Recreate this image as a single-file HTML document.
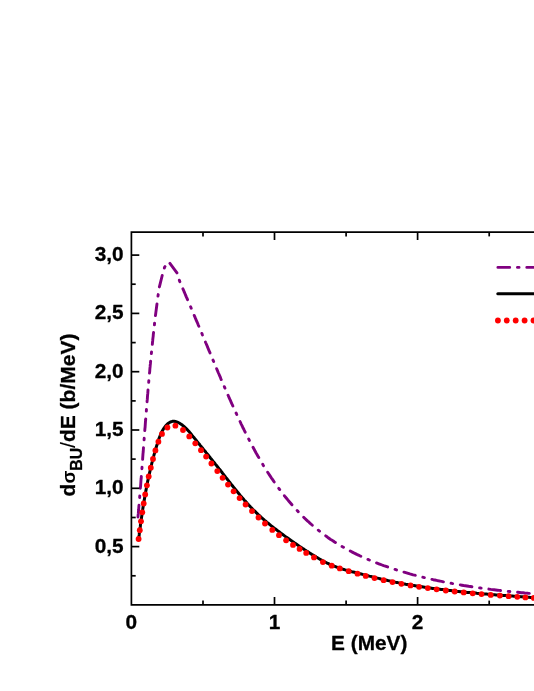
<!DOCTYPE html>
<html><head><meta charset="utf-8"><title>chart</title>
<style>html,body{margin:0;padding:0;background:#fff}svg{display:block;will-change:transform}text{font-family:"Liberation Sans",sans-serif;font-weight:bold;fill:#000;stroke:#000;stroke-width:0.3px;stroke-linejoin:round}</style></head>
<body>
<svg width="534" height="691" viewBox="0 0 534 691">
<rect width="534" height="691" fill="#fff"/>
<path d="M138.0,517.0 L138.1,515.5 L138.3,513.9 L138.4,512.4 L138.5,510.8 L138.7,509.3 L138.8,507.7 L138.9,506.2 L139.1,504.6 L139.2,503.1 L139.3,501.5 L139.4,500.0 L139.6,498.4 L139.7,496.9 L139.8,495.3 L139.9,493.8 L140.1,492.3 L140.2,490.7 L140.3,489.2 L140.4,487.6 L140.6,486.1 L140.7,484.5 L140.8,483.0 L140.9,481.4 L141.0,479.9 L141.2,478.3 L141.3,476.8 L141.4,475.2 L141.5,473.7 L141.6,472.1 L141.8,470.6 L141.9,469.0 L142.0,467.5 L142.1,466.0 L142.2,464.4 L142.3,462.9 L142.5,461.3 L142.6,459.8 L142.7,458.2 L142.8,456.7 L142.9,455.1 L143.0,453.6 L143.2,452.0 L143.3,450.5 L143.4,448.9 L143.5,447.4 L143.6,445.8 L143.8,444.3 L143.9,442.7 L144.0,441.2 L144.1,439.6 L144.2,438.1 L144.3,436.5 L144.5,435.0 L144.6,433.5 L144.7,431.9 L144.8,430.4 L144.9,428.8 L145.1,427.3 L145.2,425.7 L145.3,424.2 L145.4,422.6 L145.5,421.1 L145.7,419.5 L145.8,418.0 L145.9,416.4 L146.0,414.9 L146.1,413.3 L146.3,411.8 L146.4,410.2 L146.5,408.7 L146.6,407.1 L146.8,405.6 L146.9,404.1 L147.0,402.5 L147.1,401.0 L147.3,399.4 L147.4,397.9 L147.5,396.3 L147.6,394.8 L147.8,393.2 L147.9,391.7 L148.0,390.1 L148.2,388.6 L148.3,387.0 L148.4,385.5 L148.6,383.9 L148.7,382.4 L148.8,380.9 L149.0,379.3 L149.1,377.8 L149.2,376.2 L149.4,374.7 L149.5,373.1 L149.7,371.6 L149.8,370.0 L149.9,368.5 L150.1,366.9 L150.2,365.4 L150.4,363.9 L150.5,362.3 L150.7,360.8 L150.8,359.2 L151.0,357.7 L151.1,356.1 L151.3,354.6 L151.4,353.0 L151.6,351.5 L151.7,350.0 L151.9,348.4 L152.0,346.9 L152.2,345.3 L152.4,343.8 L152.5,342.2 L152.7,340.7 L152.8,339.2 L153.0,337.6 L153.2,336.1 L153.3,334.5 L153.5,333.0 L153.7,331.4 L153.8,329.9 L154.0,328.4 L154.2,326.8 L154.4,325.3 L154.5,323.7 L154.7,322.2 L154.9,320.6 L155.1,319.1 L155.3,317.6 L155.4,316.0 L155.6,314.5 L155.8,312.9 L156.0,311.4 L156.2,309.9 L156.4,308.3 L156.6,306.8 L156.8,305.2 L157.0,303.7 L157.2,302.2 L157.4,300.6 L157.6,299.1 L157.8,297.5 L158.0,296.0 L158.2,294.5 L158.4,292.9 L158.6,291.4 L158.8,289.9 L159.0,288.3 L159.4,286.8 L162.4,274.7 L164.7,266.9 L168.9,262.0 L177.3,273.3 L179.5,280.9 L180.2,282.5 L180.9,284.1 L181.5,285.6 L182.2,287.2 L182.9,288.8 L183.6,290.3 L184.2,291.9 L184.9,293.5 L185.6,295.1 L186.2,296.6 L186.9,298.2 L187.6,299.8 L188.3,301.4 L188.9,302.9 L189.6,304.5 L190.3,306.1 L191.0,307.7 L191.6,309.3 L192.3,310.8 L193.0,312.4 L193.6,314.0 L194.3,315.6 L195.0,317.2 L195.6,318.7 L196.3,320.3 L197.0,321.9 L197.7,323.5 L198.3,325.1 L199.0,326.6 L199.7,328.2 L200.3,329.8 L201.0,331.4 L201.7,333.0 L202.3,334.5 L203.0,336.1 L203.6,337.7 L204.3,339.3 L205.0,340.9 L205.6,342.5 L206.3,344.0 L207.0,345.6 L207.6,347.2 L208.3,348.8 L208.9,350.4 L209.6,351.9 L210.3,353.5 L210.9,355.1 L211.6,356.7 L212.3,358.3 L212.9,359.8 L213.6,361.4 L214.3,363.0 L214.9,364.6 L215.6,366.2 L216.2,367.7 L216.9,369.3 L217.6,370.9 L218.2,372.5 L218.9,374.0 L219.6,375.6 L220.3,377.2 L220.9,378.8 L221.6,380.3 L222.3,381.9 L223.0,383.5 L223.6,385.1 L224.3,386.6 L225.0,388.2 L225.7,389.8 L226.4,391.3 L227.0,392.9 L227.7,394.5 L228.4,396.0 L229.1,397.6 L229.8,399.2 L230.5,400.7 L231.2,402.3 L231.9,403.9 L232.6,405.4 L233.3,407.0 L234.0,408.5 L234.7,410.1 L235.4,411.7 L236.2,413.2 L236.9,414.8 L237.6,416.3 L238.3,417.9 L239.0,419.4 L239.8,421.0 L240.5,422.5 L241.2,424.1 L242.0,425.6 L242.7,427.2 L243.5,428.7 L244.2,430.2 L245.0,431.8 L245.8,433.3 L246.5,434.8 L247.3,436.4 L248.1,437.9 L248.9,439.4 L249.6,440.9 L250.4,442.4 L251.2,444.0 L252.0,445.5 L252.9,447.0 L253.7,448.5 L254.5,450.0 L255.3,451.5 L256.1,453.0 L257.0,454.5 L257.8,456.0 L258.7,457.4 L259.5,458.9 L260.4,460.4 L261.3,461.9 L262.2,463.3 L263.0,464.8 L263.9,466.3 L264.8,467.7 L265.7,469.2 L266.6,470.6 L267.6,472.1 L268.5,473.5 L269.4,474.9 L270.4,476.4 L271.3,477.8 L272.3,479.2 L273.3,480.6 L274.3,482.1 L275.2,483.5 L276.2,484.9 L277.2,486.3 L278.3,487.7 L279.3,489.0 L280.3,490.4 L281.3,491.8 L282.4,493.1 L283.4,494.5 L284.5,495.9 L285.6,497.2 L286.7,498.5 L287.8,499.9 L288.9,501.2 L290.0,502.5 L291.1,503.8 L292.2,505.1 L293.3,506.4 L294.5,507.7 L295.6,508.9 L296.8,510.2 L298.0,511.4 L299.2,512.7 L300.4,513.9 L301.6,515.1 L302.8,516.3 L304.0,517.6 L305.2,518.7 L306.4,519.9 L307.7,521.1 L309.0,522.2 L310.2,523.4 L311.5,524.5 L312.8,525.7 L314.1,526.8 L315.4,527.9 L316.7,529.0 L318.0,530.0 L319.4,531.1 L320.7,532.1 L322.0,533.2 L323.4,534.2 L324.8,535.2 L326.2,536.2 L327.5,537.2 L328.9,538.2 L330.3,539.2 L331.7,540.1 L333.2,541.0 L334.6,542.0 L336.0,542.9 L337.5,543.8 L338.9,544.7 L340.4,545.5 L341.8,546.4 L343.3,547.2 L344.8,548.1 L346.3,548.9 L347.8,549.7 L349.3,550.5 L350.8,551.3 L352.3,552.1 L353.8,552.9 L355.3,553.6 L356.8,554.4 L358.4,555.1 L359.9,555.8 L361.5,556.5 L363.0,557.2 L364.6,557.9 L366.1,558.6 L367.7,559.3 L369.3,560.0 L370.9,560.6 L372.4,561.3 L374.0,561.9 L375.6,562.5 L377.2,563.2 L378.8,563.8 L380.4,564.4 L382.0,565.0 L383.6,565.6 L385.3,566.1 L386.9,566.7 L388.5,567.3 L390.1,567.8 L391.8,568.4 L393.4,568.9 L395.0,569.4 L396.7,570.0 L398.3,570.5 L400.0,571.0 L401.6,571.5 L403.3,572.0 L404.9,572.4 L406.6,572.9 L408.2,573.4 L409.9,573.9 L411.5,574.3 L413.2,574.8 L414.9,575.2 L416.5,575.6 L418.2,576.1 L419.9,576.5 L421.5,576.9 L423.2,577.3 L424.9,577.7 L426.5,578.1 L428.2,578.5 L429.9,578.9 L431.6,579.3 L433.2,579.7 L434.9,580.0 L436.6,580.4 L438.3,580.8 L440.0,581.1 L441.6,581.4 L443.3,581.8 L445.0,582.1 L446.7,582.5 L448.4,582.8 L450.1,583.1 L451.8,583.4 L453.4,583.7 L455.1,584.0 L456.8,584.3 L458.5,584.6 L460.2,584.9 L461.9,585.2 L463.6,585.5 L465.3,585.7 L467.0,586.0 L468.7,586.3 L470.4,586.5 L472.1,586.8 L473.8,587.0 L475.5,587.3 L477.2,587.5 L478.9,587.8 L480.6,588.0 L482.2,588.3 L483.9,588.5 L485.6,588.7 L487.3,588.9 L489.0,589.1 L490.7,589.4 L492.4,589.6 L494.1,589.8 L495.8,590.0 L497.5,590.2 L499.2,590.4 L500.9,590.6 L502.6,590.8 L504.3,590.9 L506.0,591.1 L507.7,591.3 L509.4,591.5 L511.1,591.7 L512.8,591.8 L514.5,592.0 L516.2,592.2 L517.9,592.3 L519.6,592.5 L521.3,592.7 L523.0,592.8 L524.7,593.0 L526.4,593.1 L528.1,593.3 L529.8,593.4" fill="none" stroke="#800080" stroke-width="2.9" stroke-linecap="round" stroke-linejoin="round" stroke-dasharray="11.8 7.75 1.6 7.75"/>
<path d="M138.6,539.0 L138.8,537.6 L139.0,536.3 L139.2,534.9 L139.3,533.5 L139.5,532.1 L139.7,530.8 L139.9,529.4 L140.1,528.0 L140.3,526.7 L140.4,525.3 L140.6,523.9 L140.8,522.6 L141.0,521.2 L141.2,519.8 L141.4,518.5 L141.6,517.1 L141.8,515.7 L142.0,514.4 L142.2,513.0 L142.4,511.6 L142.6,510.3 L142.8,508.9 L143.0,507.6 L143.2,506.2 L143.5,504.8 L143.7,503.5 L143.9,502.1 L144.1,500.7 L144.4,499.4 L144.6,498.0 L144.8,496.7 L145.1,495.3 L145.3,493.9 L145.6,492.6 L145.8,491.2 L146.1,489.9 L146.3,488.5 L146.6,487.2 L146.8,485.8 L147.1,484.5 L147.4,483.1 L147.6,481.7 L147.9,480.4 L148.2,479.0 L148.5,477.7 L148.8,476.3 L149.1,475.0 L149.4,473.6 L149.7,472.3 L150.0,471.0 L150.3,469.6 L150.6,468.3 L150.9,466.9 L151.3,465.6 L151.6,464.2 L151.9,462.9 L152.3,461.6 L152.6,460.2 L153.0,458.9 L153.3,457.6 L153.7,456.2 L154.0,454.9 L154.4,453.6 L154.8,452.2 L155.2,450.9 L155.6,449.6 L155.9,448.3 L156.3,447.0 L156.7,445.6 L157.2,444.3 L157.6,443.0 L158.0,441.7 L158.4,440.4 L158.8,439.1 L159.3,437.8 L159.8,436.5 L160.3,435.2 L160.8,434.0 L161.4,432.7 L162.0,431.5 L162.7,430.2 L163.4,429.0 L164.2,427.8 L165.1,426.6 L166.0,425.5 L167.0,424.4 L168.1,423.5 L169.2,422.7 L170.4,422.0 L171.6,421.6 L172.8,421.3 L174.1,421.3 L175.4,421.5 L176.7,421.9 L177.9,422.4 L179.2,423.0 L180.3,423.7 L181.5,424.5 L182.6,425.3 L183.6,426.1 L184.7,427.1 L185.7,428.0 L186.7,429.0 L187.6,430.0 L188.5,431.0 L189.5,432.1 L190.4,433.2 L191.3,434.3 L192.1,435.4 L193.0,436.5 L193.9,437.5 L194.8,438.6 L195.7,439.7 L196.5,440.8 L197.4,441.9 L198.3,443.0 L199.2,444.0 L200.0,445.1 L200.9,446.2 L201.8,447.3 L202.7,448.3 L203.5,449.4 L204.4,450.5 L205.3,451.5 L206.1,452.6 L207.0,453.7 L207.9,454.8 L208.7,455.8 L209.6,456.9 L210.4,458.0 L211.3,459.0 L212.2,460.1 L213.0,461.2 L213.9,462.2 L214.7,463.3 L215.6,464.4 L216.5,465.4 L217.3,466.5 L218.2,467.6 L219.0,468.7 L219.9,469.8 L220.7,470.8 L221.6,471.9 L222.4,473.0 L223.3,474.1 L224.1,475.2 L225.0,476.3 L225.8,477.4 L226.7,478.4 L227.5,479.5 L228.4,480.6 L229.2,481.7 L230.1,482.8 L230.9,483.9 L231.8,485.0 L232.6,486.0 L233.5,487.1 L234.4,488.2 L235.2,489.3 L236.1,490.3 L237.0,491.4 L237.9,492.5 L238.7,493.6 L239.6,494.6 L240.5,495.7 L241.4,496.7 L242.3,497.8 L243.2,498.8 L244.1,499.9 L245.0,500.9 L246.0,501.9 L246.9,503.0 L247.8,504.0 L248.7,505.0 L249.7,506.0 L250.6,507.0 L251.6,508.0 L252.5,509.0 L253.5,510.0 L254.5,510.9 L255.5,511.9 L256.5,512.9 L257.5,513.8 L258.5,514.8 L259.5,515.7 L260.5,516.6 L261.5,517.6 L262.5,518.5 L263.6,519.4 L264.6,520.3 L265.7,521.2 L266.7,522.1 L267.8,523.0 L268.9,523.8 L269.9,524.7 L271.0,525.6 L272.1,526.4 L273.2,527.3 L274.3,528.2 L275.4,529.0 L276.5,529.8 L277.6,530.7 L278.7,531.5 L279.8,532.3 L280.9,533.2 L282.0,534.0 L283.1,534.8 L284.2,535.6 L285.3,536.4 L286.5,537.2 L287.6,538.0 L288.7,538.8 L289.8,539.6 L291.0,540.4 L292.1,541.2 L293.2,542.0 L294.3,542.8 L295.5,543.6 L296.6,544.3 L297.7,545.1 L298.9,545.9 L300.0,546.7 L301.2,547.4 L302.3,548.2 L303.5,548.9 L304.6,549.7 L305.8,550.5 L306.9,551.2 L308.1,551.9 L309.2,552.7 L310.4,553.4 L311.6,554.2 L312.7,554.9 L313.9,555.6 L315.1,556.3 L316.3,557.1 L317.5,557.8 L318.7,558.5 L319.9,559.2 L321.1,559.9 L322.3,560.5 L323.5,561.2 L324.8,561.9 L326.0,562.5 L327.2,563.1 L328.5,563.7 L329.7,564.3 L331.0,564.9 L332.2,565.4 L333.5,565.9 L334.8,566.4 L336.1,566.9 L337.4,567.4 L338.7,567.8 L340.0,568.3 L341.3,568.7 L342.6,569.1 L343.9,569.5 L345.2,569.9 L346.5,570.2 L347.9,570.6 L349.2,571.0 L350.5,571.3 L351.9,571.7 L353.2,572.0 L354.5,572.3 L355.9,572.7 L357.2,573.0 L358.5,573.4 L359.9,573.7 L361.2,574.0 L362.6,574.4 L363.9,574.7 L365.2,575.1 L366.6,575.4 L367.9,575.7 L369.3,576.1 L370.6,576.4 L372.0,576.8 L373.3,577.1 L374.6,577.4 L376.0,577.8 L377.3,578.1 L378.7,578.4 L380.0,578.7 L381.4,579.1 L382.7,579.4 L384.1,579.7 L385.4,580.0 L386.8,580.3 L388.1,580.6 L389.5,580.9 L390.8,581.2 L392.2,581.5 L393.5,581.8 L394.9,582.1 L396.2,582.4 L397.6,582.6 L398.9,582.9 L400.3,583.2 L401.6,583.4 L403.0,583.7 L404.3,583.9 L405.7,584.2 L407.0,584.4 L408.4,584.6 L409.8,584.9 L411.1,585.1 L412.5,585.3 L413.8,585.6 L415.2,585.8 L416.5,586.0 L417.9,586.2 L419.3,586.4 L420.6,586.6 L422.0,586.8 L423.4,587.0 L424.7,587.2 L426.1,587.4 L427.4,587.6 L428.8,587.8 L430.2,588.0 L431.5,588.2 L432.9,588.4 L434.3,588.6 L435.6,588.8 L437.0,588.9 L438.4,589.1 L439.7,589.3 L441.1,589.5 L442.5,589.6 L443.9,589.8 L445.2,590.0 L446.6,590.1 L448.0,590.3 L449.3,590.5 L450.7,590.6 L452.1,590.8 L453.5,590.9 L454.8,591.1 L456.2,591.2 L457.6,591.4 L458.9,591.5 L460.3,591.7 L461.7,591.8 L463.1,591.9 L464.4,592.1 L465.8,592.2 L467.2,592.4 L468.6,592.5 L469.9,592.6 L471.3,592.8 L472.7,592.9 L474.1,593.0 L475.4,593.1 L476.8,593.3 L478.2,593.4 L479.6,593.5 L480.9,593.6 L482.3,593.8 L483.7,593.9 L485.1,594.0 L486.5,594.1 L487.8,594.2 L489.2,594.3 L490.6,594.4 L492.0,594.6 L493.3,594.7 L494.7,594.8 L496.1,594.9 L497.5,595.0 L498.8,595.1 L500.2,595.2 L501.6,595.3 L503.0,595.4 L504.3,595.5 L505.7,595.6 L507.1,595.7 L508.5,595.8 L509.9,595.9 L511.2,596.0 L512.6,596.1 L514.0,596.2 L515.4,596.3 L516.7,596.4 L518.1,596.5 L519.5,596.6 L520.9,596.7 L522.2,596.8 L523.6,596.9 L525.0,597.0 L526.4,597.1 L527.7,597.2 L529.1,597.3 L530.5,597.4 L531.9,597.5 L533.2,597.6 L534.6,597.7 L536.0,597.7" fill="none" stroke="#000" stroke-width="3.0" stroke-linejoin="round"/>
<g fill="#ff0000"><circle cx="138.6" cy="539.0" r="2.9"/><circle cx="139.8" cy="530.2" r="2.9"/><circle cx="141.0" cy="521.3" r="2.9"/><circle cx="142.3" cy="512.3" r="2.9"/><circle cx="143.7" cy="503.5" r="2.9"/><circle cx="145.2" cy="494.4" r="2.9"/><circle cx="146.9" cy="485.3" r="2.9"/><circle cx="148.7" cy="476.5" r="2.9"/><circle cx="150.8" cy="467.7" r="2.9"/><circle cx="153.0" cy="459.0" r="2.9"/><circle cx="155.4" cy="450.4" r="2.9"/><circle cx="158.4" cy="441.7" r="2.9"/><circle cx="162.0" cy="433.9" r="2.9"/><circle cx="167.4" cy="427.5" r="2.9"/><circle cx="175.4" cy="425.7" r="2.9"/><circle cx="183.0" cy="430.0" r="2.9"/><circle cx="189.3" cy="436.4" r="2.9"/><circle cx="195.3" cy="443.3" r="2.9"/><circle cx="201.0" cy="450.2" r="2.9"/><circle cx="206.1" cy="456.6" r="2.9"/><circle cx="211.4" cy="463.5" r="2.9"/><circle cx="217.3" cy="471.1" r="2.9"/><circle cx="222.6" cy="477.8" r="2.9"/><circle cx="228.0" cy="484.6" r="2.9"/><circle cx="233.6" cy="491.3" r="2.9"/><circle cx="239.6" cy="498.1" r="2.9"/><circle cx="245.6" cy="504.5" r="2.9"/><circle cx="252.0" cy="511.1" r="2.9"/><circle cx="258.5" cy="517.5" r="2.9"/><circle cx="265.0" cy="523.5" r="2.9"/><circle cx="272.3" cy="529.9" r="2.9"/><circle cx="279.0" cy="535.2" r="2.9"/><circle cx="286.1" cy="540.3" r="2.9"/><circle cx="293.0" cy="544.9" r="2.9"/><circle cx="299.6" cy="548.9" r="2.9"/><circle cx="306.2" cy="552.9" r="2.9"/><circle cx="314.0" cy="557.4" r="2.9"/><circle cx="322.9" cy="562.1" r="2.9"/><circle cx="331.7" cy="565.7" r="2.9"/><circle cx="339.8" cy="568.4" r="2.9"/><circle cx="348.7" cy="571.2" r="2.9"/><circle cx="357.5" cy="573.7" r="2.9"/><circle cx="365.7" cy="575.9" r="2.9"/><circle cx="374.5" cy="578.1" r="2.9"/><circle cx="383.6" cy="580.2" r="2.9"/><circle cx="392.5" cy="582.1" r="2.9"/><circle cx="401.4" cy="583.8" r="2.9"/><circle cx="410.5" cy="585.4" r="2.9"/><circle cx="419.1" cy="586.8" r="2.9"/><circle cx="427.8" cy="588.1" r="2.9"/><circle cx="436.6" cy="589.3" r="2.9"/><circle cx="445.8" cy="590.5" r="2.9"/><circle cx="454.7" cy="591.5" r="2.9"/><circle cx="463.7" cy="592.4" r="2.9"/><circle cx="472.7" cy="593.3" r="2.9"/><circle cx="481.5" cy="594.1" r="2.9"/><circle cx="490.7" cy="594.9" r="2.9"/><circle cx="499.9" cy="595.6" r="2.9"/><circle cx="508.6" cy="596.2" r="2.9"/><circle cx="517.3" cy="596.8" r="2.9"/><circle cx="525.4" cy="597.4" r="2.9"/><circle cx="533.8" cy="597.9" r="2.9"/></g>
<path d="M497.9,267.4 H540" fill="none" stroke="#800080" stroke-width="2.9" stroke-linecap="round" stroke-dasharray="11.8 7.75 1.6 7.75"/>
<path d="M497.8,293.8 H540" fill="none" stroke="#000" stroke-width="3.0" stroke-linecap="round"/>
<g fill="#ff0000"><circle cx="497.9" cy="320.5" r="2.9"/><circle cx="506.8" cy="320.5" r="2.9"/><circle cx="515.7" cy="320.5" r="2.9"/><circle cx="524.6" cy="320.5" r="2.9"/><circle cx="533.5" cy="320.5" r="2.9"/><circle cx="542.4" cy="320.5" r="2.9"/></g>
<g stroke="#000" stroke-width="1.70" fill="none" stroke-linecap="butt">
<path d="M540,232.1 H131.4 V604.9 H540"/>
<path d="M131.4,575.8 h4.3"/>
<path d="M131.4,546.6 h7.9"/>
<path d="M131.4,517.5 h4.3"/>
<path d="M131.4,488.3 h7.9"/>
<path d="M131.4,459.1 h4.3"/>
<path d="M131.4,430.0 h7.9"/>
<path d="M131.4,400.9 h4.3"/>
<path d="M131.4,371.7 h7.9"/>
<path d="M131.4,342.6 h4.3"/>
<path d="M131.4,313.4 h7.9"/>
<path d="M131.4,284.2 h4.3"/>
<path d="M131.4,255.1 h7.9"/>
<path d="M203.0,604.9 v-4.3"/>
<path d="M203.0,232.1 v4.3"/>
<path d="M274.5,604.9 v-7.9"/>
<path d="M274.5,232.1 v7.9"/>
<path d="M346.1,604.9 v-4.3"/>
<path d="M346.1,232.1 v4.3"/>
<path d="M417.6,604.9 v-7.9"/>
<path d="M417.6,232.1 v7.9"/>
<path d="M489.2,604.9 v-4.3"/>
<path d="M489.2,232.1 v4.3"/>
</g>
<text x="123.6" y="552.5" font-size="20.8" text-anchor="end">0,5</text>
<text x="123.6" y="494.2" font-size="20.8" text-anchor="end">1,0</text>
<text x="123.6" y="435.9" font-size="20.8" text-anchor="end">1,5</text>
<text x="123.6" y="377.6" font-size="20.8" text-anchor="end">2,0</text>
<text x="123.6" y="319.3" font-size="20.8" text-anchor="end">2,5</text>
<text x="123.6" y="261.0" font-size="20.8" text-anchor="end">3,0</text>
<text x="131.4" y="628.7" font-size="20.8" text-anchor="middle">0</text>
<text x="274.5" y="628.7" font-size="20.8" text-anchor="middle">1</text>
<text x="417.6" y="628.7" font-size="20.8" text-anchor="middle">2</text>
<text x="369.2" y="649.5" font-size="20.8" text-anchor="middle">E (MeV)</text>
<text transform="translate(74.8,496.55) rotate(-90)" font-size="21">d<tspan font-size="19" dx="0.35" stroke="none">σ</tspan><tspan font-size="15.8" dy="6.9" dx="-0.35">BU</tspan><tspan dy="-6.9" font-weight="normal" stroke-width="0.1">/</tspan>dE (b/MeV)</text>
</svg></body></html>
